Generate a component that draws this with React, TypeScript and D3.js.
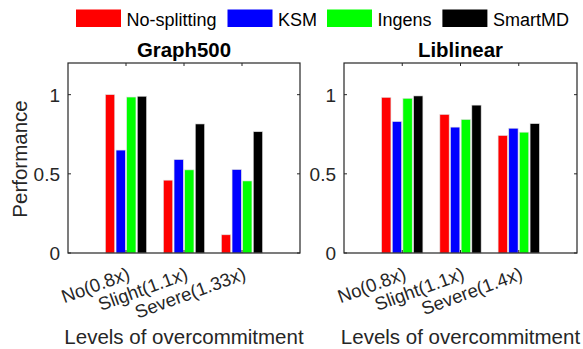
import React from "react";
import * as d3 from "d3";

const series = ["No-splitting", "KSM", "Ingens", "SmartMD"];
const colors = ["#ff0000", "#0000ff", "#00ff00", "#000000"];
const g500Cats = ["No(0.8x)", "Slight(1.1x)", "Severe(1.33x)"];
const libCats = ["No(0.8x)", "Slight(1.1x)", "Severe(1.4x)"];
// values per category: [No-splitting, KSM, Ingens, SmartMD]
const g500Values = [
  [1.0, 0.65, 0.985, 0.99],
  [0.46, 0.59, 0.525, 0.815],
  [0.115, 0.527, 0.455, 0.766],
];
const libValues = [
  [0.983, 0.83, 0.977, 0.992],
  [0.875, 0.795, 0.843, 0.934],
  [0.742, 0.788, 0.763, 0.817],
];
const yTicks = [0, 0.5, 1];

const FONT = "'Liberation Sans', Arial, sans-serif";
const AX = "#262626";

type PanelProps = {
  x0: number; x1: number; title: string; cats: string[]; values: number[][];
};

function Panel({ x0, x1, title, cats, values }: PanelProps) {
  const top = 63, bottom = 253;
  const x = d3.scaleLinear().domain([0, 4]).range([x0, x1]);
  const y = d3.scaleLinear().domain([0, 1.2]).range([bottom, top]);
  const barW = 0.16;
  const step = 0.183;
  const cx = (x0 + x1) / 2;
  return (
    <g>
      <text x={cx} y={57} textAnchor="middle" fontFamily={FONT} fontWeight="bold" fontSize={20.4} fill="#000">{title}</text>
      <rect x={x0} y={top} width={x1 - x0} height={bottom - top} fill="#fff" stroke="none" />
      {values.map((row, ci) =>
        row.map((v, si) => {
          const c = ci + 1 + (si - 1.5) * step;
          return (
            <rect key={`${ci}-${si}`} x={x(c - barW / 2)} y={y(v)} width={x(c + barW / 2) - x(c - barW / 2)}
              height={y(0) - y(v)} fill={colors[si]} stroke="#e0e0e0" strokeWidth={0.6} />
          );
        })
      )}
      <rect x={x0} y={top} width={x1 - x0} height={bottom - top} fill="none" stroke={AX} strokeWidth={1.2} />
      {yTicks.map((t) => (
        <g key={t}>
          <line x1={x0} x2={x0 + 3} y1={y(t)} y2={y(t)} stroke={AX} />
          <line x1={x1} x2={x1 - 3} y1={y(t)} y2={y(t)} stroke={AX} />
          <text x={x0 - 8} y={y(t)} dy="0.36em" textAnchor="end" fontFamily={FONT} fontSize={19} fill={AX}>{t}</text>
        </g>
      ))}
      {cats.map((c, i) => (
        <g key={c}>
          <line x1={x(i + 1)} x2={x(i + 1)} y1={bottom} y2={bottom - 3} stroke={AX} />
          <line x1={x(i + 1)} x2={x(i + 1)} y1={top} y2={top + 3} stroke={AX} />
          <text transform={`translate(${x(i + 1) + 5},${279}) rotate(-20)`} textAnchor="end"
            fontFamily={FONT} fontSize={18.5} fill={AX}>{c}</text>
        </g>
      ))}
      <text x={cx} y={344} textAnchor="middle" fontFamily={FONT} fontSize={20.5} fill={AX}>Levels of overcommitment</text>
    </g>
  );
}

export default function App() {
  const legendX = [76, 227.5, 327, 442.4];
  return (
    <svg width={583} height={349} style={{ position: "absolute", left: 0, top: 0, background: "#fff" }}>
      <rect width={583} height={349} fill="#fff" />
      {series.map((s, i) => (
        <g key={s}>
          <rect x={legendX[i]} y={9.5} width={45} height={17.5} fill={colors[i]} />
          <text x={legendX[i] + 50.5} y={25.5} fontFamily={FONT} fontSize={18} fill="#000">{s}</text>
        </g>
      ))}
      <Panel x0={68} x1={300} title="Graph500" cats={g500Cats} values={g500Values} />
      <Panel x0={344} x1={577} title="Liblinear" cats={libCats} values={libValues} />
      <text transform="translate(27,159) rotate(-90)" textAnchor="middle" fontFamily={FONT} fontSize={20.5} fill={AX}>Performance</text>
    </svg>
  );
}
